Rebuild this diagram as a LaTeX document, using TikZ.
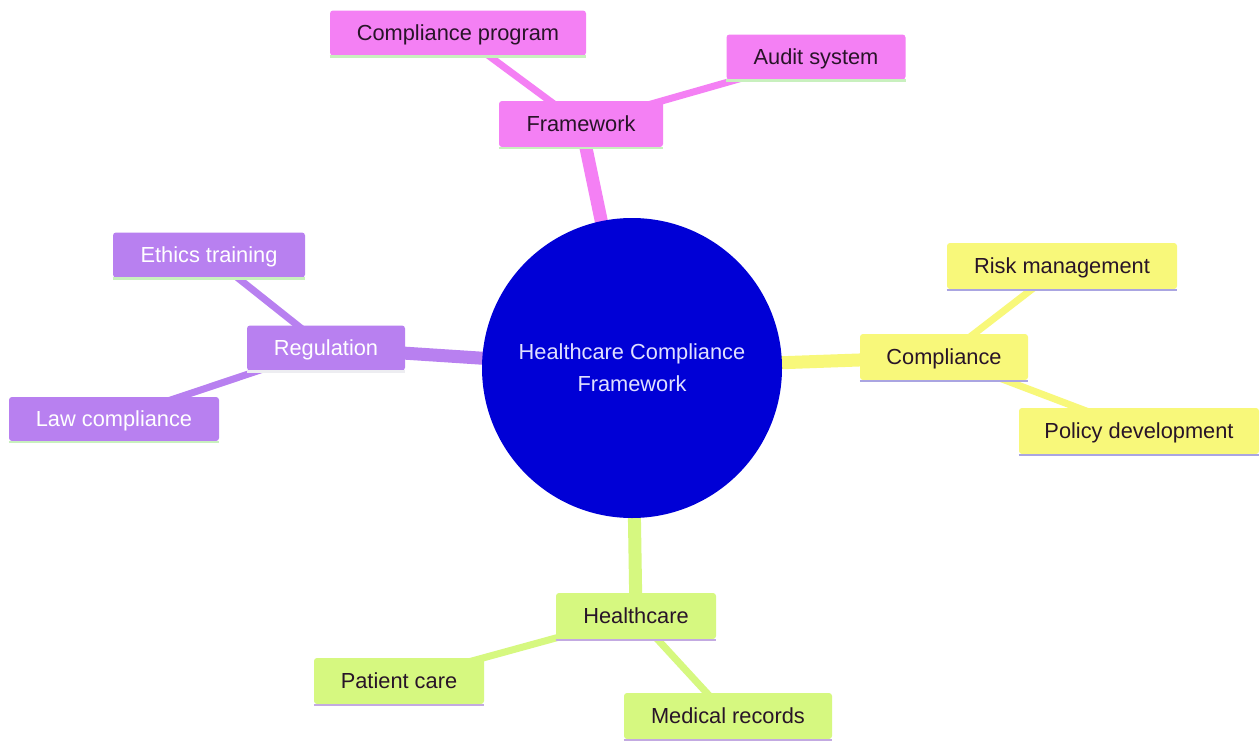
\documentclass[tikz,border=0pt]{standalone}
\usepackage{fontspec}
\setmainfont{Liberation Sans}
\usetikzlibrary{backgrounds}
\definecolor{cpink}{RGB}{244,128,244}
\definecolor{cpurple}{RGB}{184,128,240}
\definecolor{cyellow}{RGB}{248,248,122}
\definecolor{cgreen}{RGB}{214,248,128}
\definecolor{cblue}{RGB}{0,0,214}
\definecolor{lgreen}{RGB}{200,240,190}
\definecolor{lpurp}{RGB}{170,165,225}
\definecolor{lpurp2}{RGB}{195,170,225}
\definecolor{darktxt}{RGB}{40,20,40}
\tikzset{
  x=1pt,y=-1pt,
  box/.style={rounded corners=3pt, inner sep=0pt, text height=16pt, text depth=2pt, font=\fontsize{21.8}{26}\selectfont},
  pinkbox/.style={box, fill=cpink, text=darktxt},
  purpbox/.style={box, fill=cpurple, text=white},
  yelbox/.style={box, fill=cyellow, text=darktxt},
  grnbox/.style={box, fill=cgreen, text=darktxt},
  thick1/.style={line width=13pt},
  thick2/.style={line width=7pt},
}
\newcommand{\bottomline}[2]{\draw[line width=2.5pt, #2] ([yshift=-1pt]#1.south west) -- ([yshift=-1pt]#1.south east);}
\begin{document}
\begin{tikzpicture}
\useasboundingbox (0,0) rectangle (1260,744);
% center
\node[circle, fill=cblue, minimum size=300pt, inner sep=0pt, text=white!88!blue, align=center,
  font=\fontsize{21.8}{32}\selectfont] (c) at (632,368) {Healthcare Compliance\\Framework};
% pink
\node[pinkbox, minimum width=164pt, minimum height=46pt] (fw) at (581,124) {Framework};
\node[pinkbox, minimum width=256pt, minimum height=45pt] (cp) at (458,33) {Compliance program};
\node[pinkbox, minimum width=179pt, minimum height=45pt] (as) at (816,57) {Audit system};
% purple
\node[purpbox, minimum width=158pt, minimum height=45pt] (reg) at (326,348) {Regulation};
\node[purpbox, minimum width=192pt, minimum height=45pt] (et) at (209,255) {Ethics training};
\node[purpbox, minimum width=210pt, minimum height=44pt] (lc) at (114,419) {Law compliance};
% yellow
\node[yelbox, minimum width=168pt, minimum height=46pt] (co) at (944,357) {Compliance};
\node[yelbox, minimum width=230pt, minimum height=46pt] (rm) at (1062,266) {Risk management};
\node[yelbox, minimum width=240pt, minimum height=46pt] (pd) at (1139,431) {Policy development};
% green
\node[grnbox, minimum width=160pt, minimum height=46pt] (hc) at (636,616) {Healthcare};
\node[grnbox, minimum width=170pt, minimum height=46pt] (pc) at (399,681) {Patient care};
\node[grnbox, minimum width=208pt, minimum height=46pt] (mr) at (728,716) {Medical records};
% bottom lines
\bottomline{fw}{lgreen}
\bottomline{cp}{lgreen}
\bottomline{as}{lgreen}
\bottomline{reg}{lgreen!60!cpurple!30!white}
\bottomline{et}{lgreen}
\bottomline{lc}{lgreen}
\bottomline{co}{lpurp}
\bottomline{rm}{lpurp}
\bottomline{pd}{lpurp}
\bottomline{hc}{lpurp2}
\bottomline{pc}{lpurp2}
\bottomline{mr}{lpurp2}
\begin{pgfonlayer}{background}
\fill[white] (0,0) rectangle (1260,744);
\draw[thick1, cpink] (c.center) -- (fw.center);
\draw[thick1, cpurple] (c.center) -- (reg.center);
\draw[thick1, cyellow] (c.center) -- (co.center);
\draw[thick1, cgreen] (c.center) -- (hc.center);
\draw[thick2, cpink] (fw.center) -- (cp.center);
\draw[thick2, cpink] (fw.center) -- (as.center);
\draw[thick2, cpurple] (reg.center) -- (et.center);
\draw[thick2, cpurple] (reg.center) -- (lc.center);
\draw[thick2, cyellow] (co.center) -- (rm.center);
\draw[thick2, cyellow] (co.center) -- (pd.center);
\draw[thick2, cgreen] (hc.center) -- (pc.center);
\draw[thick2, cgreen] (hc.center) -- (mr.center);
\end{pgfonlayer}
\end{tikzpicture}
\end{document}
